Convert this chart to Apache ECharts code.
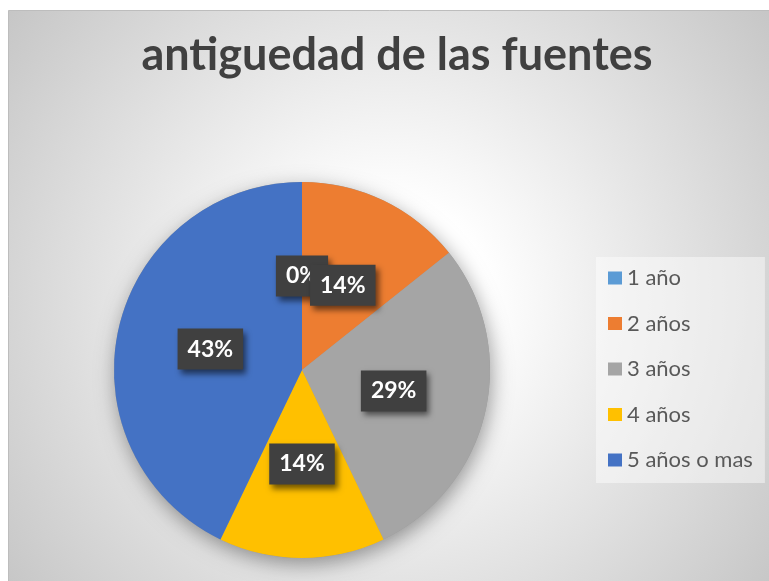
<!DOCTYPE html>
<html>
<head>
<meta charset="utf-8">
<script src="https://cdn.jsdelivr.net/npm/echarts@6/dist/echarts.min.js"></script>
<style>
html,body{margin:0;padding:0;background:#fff;}
#chart{width:769px;height:581px;}
</style>
</head>
<body>
<div id="chart"></div>
<script>
const titleText = 'antiguedad de las fuentes';
const categories = ['1 año', '2 años', '3 años', '4 años', '5 años o mas'];
const values = [0, 1, 2, 1, 3];
const colors = ['#5B9BD5', '#ED7D31', '#A5A5A5', '#FFC000', '#4472C4'];

const chart = echarts.init(document.getElementById('chart'), null, {renderer: 'canvas'});
const FONT = 'Lato, Carlito, "Open Sans", sans-serif';
const center = [302, 370];
const radius = 188;

const total = values.reduce((a, b) => a + b, 0);
// label anchors: [radius fraction, angle value] at the middle of each slice
let acc = 0;
const labelPoints = values.map((v, i) => {
  const mid = acc + v / 2;
  acc += v;
  return {value: [0.5, mid], pct: Math.round(v / total * 100)};
});

const option = {
  animation: false,
  graphic: [{
    type: 'rect',
    z: -10,
    silent: true,
    shape: {x: 8.5, y: 10.5, width: 770, height: 600},
    style: {
      fill: new echarts.graphic.RadialGradient(390, 300, 480, [
        {offset: 0, color: '#ffffff'},
        {offset: 0.2, color: '#ffffff'},
        {offset: 1, color: '#c6c6c6'}
      ], true),
      stroke: '#bdbdbd',
      lineWidth: 1
    }
  }],
  title: {
    text: titleText,
    left: 392,
    top: 28,
    textAlign: 'center',
    textStyle: {fontFamily: FONT, fontWeight: 'bold', fontSize: 45, color: '#404040'}
  },
  legend: {
    orient: 'vertical',
    left: 596,
    top: 257,
    data: categories,
    padding: [10, 12, 12, 12],
    backgroundColor: 'rgba(255,255,255,0.45)',
    itemWidth: 14,
    itemHeight: 13,
    itemGap: 23.5,
    icon: 'rect',
    selectedMode: false,
    textStyle: {fontFamily: FONT, fontSize: 22, color: '#595959', lineHeight: 20}
  },
  polar: {center: center, radius: radius},
  angleAxis: {type: 'value', min: 0, max: total, startAngle: 90, clockwise: true, show: false},
  radiusAxis: {type: 'value', min: 0, max: 1, show: false},
  series: [{
    type: 'pie',
    name: 'shadow',
    z: 1,
    silent: true,
    center: center,
    radius: radius,
    legendHoverLink: false,
    label: {show: false},
    labelLine: {show: false},
    itemStyle: {color: '#999', shadowBlur: 20, shadowColor: 'rgba(0,0,0,0.38)', shadowOffsetX: 2, shadowOffsetY: 6},
    data: [{name: '_s', value: 1}]
  }, {
    type: 'pie',
    z: 2,
    center: center,
    radius: radius,
    startAngle: 90,
    clockwise: true,
    avoidLabelOverlap: false,
    itemStyle: {borderWidth: 0},
    emphasis: {disabled: true},
    label: {show: false},
    labelLine: {show: false},
    data: categories.map((c, i) => ({name: c, value: values[i], itemStyle: {color: colors[i]}}))
  }, {
    type: 'scatter',
    coordinateSystem: 'polar',
    z: 5,
    silent: true,
    symbol: 'circle',
    symbolSize: 1,
    itemStyle: {color: 'rgba(0,0,0,0)', opacity: 1},
    emphasis: {disabled: true},
    label: {
      show: true,
      position: 'inside',
      opacity: 1,
      formatter: p => labelPoints[p.dataIndex].pct + '%',
      fontFamily: FONT,
      fontWeight: 'bold',
      fontSize: 23,
      lineHeight: 26,
      color: '#ffffff',
      backgroundColor: '#404040',
      padding: [8, 10, 7, 10],
      shadowBlur: 6,
      shadowOffsetX: 3,
      shadowOffsetY: 4,
      shadowColor: 'rgba(0,0,0,0.55)'
    },
    data: labelPoints.map(p => p.value)
  }]
};
chart.setOption(option);
</script>
</body>
</html>
